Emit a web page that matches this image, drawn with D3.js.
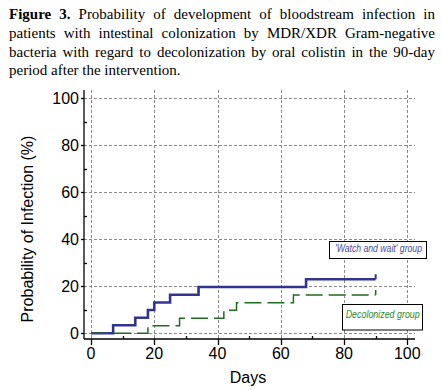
<!DOCTYPE html>
<html><head><meta charset="utf-8">
<script src="https://cdn.jsdelivr.net/npm/d3@7"></script>
<style>
html,body{margin:0;padding:0;background:#fff;}
svg{display:block;}
</style></head>
<body>
<svg id="c" width="442" height="390"></svg>
<script>
// ---- data ----
const titleLines = [
  ["Figure 3.", " Probability of development of bloodstream infection in"],
  ["", "patients with intestinal colonization by MDR/XDR Gram-negative"],
  ["", "bacteria with regard to decolonization by oral colistin in the 90-day"],
  ["", "period after the intervention."]
];
const xTicks = [0, 20, 40, 60, 80, 100];
const yTicks = [0, 20, 40, 60, 80, 100];
const xMinor = [10, 30, 50, 70, 90];
const yMinor = [10, 30, 50, 70, 90];
const watchDays = [0, 7, 14, 18, 20, 25, 34, 68, 90];
const watchProb = [0, 3.4, 6.6, 9.9, 13.1, 16.4, 19.7, 23.0, 23.0];
const decolDays = [0, 18, 28, 42, 46, 64, 90];
const decolProb = [0, 3.2, 6.4, 9.8, 13.0, 16.3, 16.3];
const censorWatch = [90];
const censorDecol = [90];
const xLabel = "Days";
const yLabel = "Probability of Infection (%)";
const legendWatch = "'Watch and wait' group";
const legendDecol = "Decolonized group";

// ---- drawing ----
const svg = d3.select("#c");
const x = d3.scaleLinear().domain([0, 100]).range([91, 407.3]);
const y = d3.scaleLinear().domain([0, 100]).range([333.3, 98.3]);
const axisX = 84, axisY = 339, gridRight = 415, gridTop = 90;
const blue = "#333391", green = "#1f6b1f";

// title (justified lines)
const tg = svg.append("g").attr("font-family", "'Liberation Serif','Times New Roman',serif")
  .attr("font-size", 15).attr("fill", "#000");
const baselines = [19.2, 37.9, 56.6, 75.3];
titleLines.forEach((ln, i) => {
  const t = tg.append("text").attr("x", 9).attr("y", baselines[i]);
  if (ln[0]) t.append("tspan").attr("font-weight", "bold").text(ln[0]);
  t.append("tspan").text(ln[1]);
  if (i < 3) {
    const w = t.node().getComputedTextLength();
    const full = ln[0] + ln[1];
    const spaces = (full.match(/ /g) || []).length;
    const target = 426;
    if (spaces > 0) t.attr("word-spacing", (target - w) / spaces);
  }
});

// grid
const grid = svg.append("g").attr("stroke", "#8a8a8a").attr("stroke-width", 1)
  .attr("stroke-dasharray", "3,2").attr("fill", "none");
grid.selectAll(".gy").data(yTicks).join("line")
  .attr("x1", axisX).attr("x2", gridRight)
  .attr("y1", d => Math.round(y(d)) + 0.5).attr("y2", d => Math.round(y(d)) + 0.5);
grid.selectAll(".gx").data(xTicks).join("line")
  .attr("y1", gridTop).attr("y2", axisY)
  .attr("x1", d => Math.round(x(d)) + 0.5).attr("x2", d => Math.round(x(d)) + 0.5);

// axes
const ax = svg.append("g").attr("stroke", "#000").attr("stroke-width", 1.3);
ax.append("line").attr("x1", axisX).attr("x2", axisX).attr("y1", gridTop).attr("y2", axisY);
ax.append("line").attr("x1", axisX).attr("x2", gridRight).attr("y1", axisY).attr("y2", axisY);
ax.selectAll(".ty").data(yTicks).join("line")
  .attr("x1", axisX - 3).attr("x2", axisX)
  .attr("y1", d => Math.round(y(d)) + 0.5).attr("y2", d => Math.round(y(d)) + 0.5);
ax.selectAll(".tym").data(yMinor).join("line")
  .attr("x1", axisX).attr("x2", axisX + 3)
  .attr("y1", d => Math.round(y(d)) + 0.5).attr("y2", d => Math.round(y(d)) + 0.5);
ax.selectAll(".tx").data(xTicks).join("line")
  .attr("y1", axisY).attr("y2", axisY + 6)
  .attr("x1", d => Math.round(x(d)) + 0.5).attr("x2", d => Math.round(x(d)) + 0.5);
ax.selectAll(".txm").data(xMinor).join("line")
  .attr("y1", axisY - 3).attr("y2", axisY)
  .attr("x1", d => Math.round(x(d)) + 0.5).attr("x2", d => Math.round(x(d)) + 0.5);

// tick labels
const lab = svg.append("g").attr("font-family", "Arial,'Liberation Sans',sans-serif")
  .attr("font-size", 16).attr("fill", "#000");
lab.selectAll(".ly").data(yTicks).join("text")
  .attr("x", 79).attr("y", d => y(d) + 5.6).attr("text-anchor", "end").text(d => d);
lab.selectAll(".lx").data(xTicks).join("text")
  .attr("x", d => x(d)).attr("y", 358.5).attr("text-anchor", "middle").text(d => d);
lab.append("text").attr("x", 248).attr("y", 383).attr("text-anchor", "middle").text(xLabel);
lab.append("text").attr("transform", "translate(33,229) rotate(-90)")
  .attr("text-anchor", "middle").attr("font-size", 16).text(yLabel);

// curves
const line = d3.line().x(d => x(d[0])).y(d => y(d[1])).curve(d3.curveStepAfter);
const wData = watchDays.map((d, i) => [d, watchProb[i]]);
const dData = decolDays.map((d, i) => [d, decolProb[i]]);
svg.append("path").attr("d", line(wData)).attr("fill", "none")
  .attr("stroke", blue).attr("stroke-width", 2.6);
svg.append("path").attr("d", line(dData)).attr("fill", "none")
  .attr("stroke", green).attr("stroke-width", 1.5).attr("stroke-dasharray", "17,6");
svg.selectAll(".cw").data(censorWatch).join("line")
  .attr("x1", d => x(d)).attr("x2", d => x(d))
  .attr("y1", d => y(watchProb[watchProb.length - 1])).attr("y2", d => y(watchProb[watchProb.length - 1]) - 5)
  .attr("stroke", blue).attr("stroke-width", 2);
svg.selectAll(".cd").data(censorDecol).join("line")
  .attr("x1", d => x(d)).attr("x2", d => x(d))
  .attr("y1", d => y(decolProb[decolProb.length - 1])).attr("y2", d => y(decolProb[decolProb.length - 1]) - 5)
  .attr("stroke", green).attr("stroke-width", 1.5);

// legends
const lg = svg.append("g").attr("font-family", "Arial,'Liberation Sans',sans-serif")
  .attr("font-style", "italic").attr("font-size", 10);
lg.append("rect").attr("x", 329.5).attr("y", 241.5).attr("width", 97).attr("height", 17)
  .attr("fill", "#fff").attr("stroke", "#000").attr("stroke-width", 1);
lg.append("text").attr("x", 335).attr("y", 251.8).attr("fill", "#4a4a9a")
  .attr("textLength", 87).attr("lengthAdjust", "spacingAndGlyphs").text(legendWatch);
lg.append("rect").attr("x", 342.5).attr("y", 304.5).attr("width", 80).attr("height", 25.5)
  .attr("fill", "#fff").attr("stroke", "#000").attr("stroke-width", 1);
lg.append("text").attr("x", 345.7).attr("y", 318).attr("fill", "#2a8a2a")
  .attr("textLength", 74).attr("lengthAdjust", "spacingAndGlyphs").text(legendDecol);
</script>
</body></html>
